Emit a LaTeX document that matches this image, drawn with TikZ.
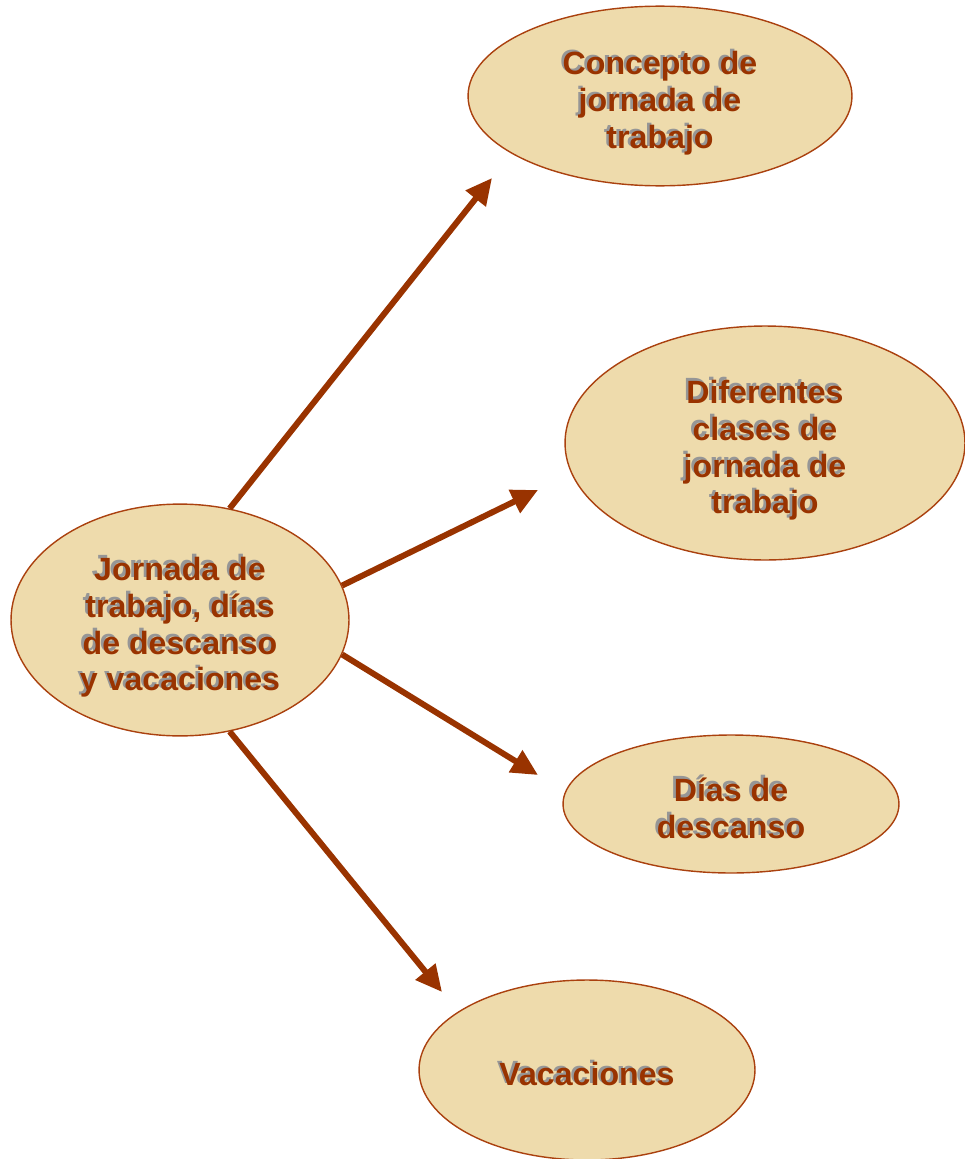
\documentclass[tikz,border=0pt]{standalone}
\usepackage{fontspec}
\setmainfont{Liberation Sans}
\usepackage{tikz}
\usetikzlibrary{shapes.geometric,arrows.meta}
\definecolor{arrowbrown}{RGB}{153,51,0}
\definecolor{textbrown}{RGB}{153,51,0}
\definecolor{shadowgray}{RGB}{150,150,150}
\definecolor{parchment}{RGB}{238,219,172}
\definecolor{rimbrown}{RGB}{170,65,15}
\newcommand{\shadowtxt}[1]{\raisebox{0pt}[\dimexpr\height+8pt\relax][\depth]{\rlap{\hspace{-1.5pt}\raisebox{1.3pt}{\color{shadowgray}\begin{tabular}{@{}c@{}}#1\end{tabular}}}\begin{tabular}{@{}c@{}}#1\end{tabular}}}
\tikzset{
  bubble/.style={ellipse, draw=rimbrown, line width=0.8pt, fill=parchment, inner sep=0pt,
    text=textbrown, font=\fontsize{18.3}{21}\selectfont\bfseries},
  link/.style={arrowbrown, line width=3.4pt, -{Triangle[length=15pt,width=14pt]}}
}
\begin{document}
\begin{tikzpicture}[x=0.02cm, y=-0.02cm]
        \useasboundingbox (0,0) rectangle (964,1159);
        \node[bubble, minimum width=7.68cm, minimum height=3.52cm] (concepto) at (660,96) {\shadowtxt{Concepto de\\jornada de\\trabajo}};
        \node[bubble, minimum width=8.0cm, minimum height=4.68cm] (clases) at (765,443) {\shadowtxt{Diferentes\\clases de\\jornada de\\trabajo}};
        \node[bubble, minimum width=6.72cm, minimum height=2.76cm] (descanso) at (731,804) {\shadowtxt{Días de\\descanso}};
        \node[bubble, minimum width=6.72cm, minimum height=3.6cm] (vacaciones) at (587,1070) {\shadowtxt{Vacaciones}};
        \node[bubble, minimum width=6.76cm, minimum height=4.6cm] (jornada) at (180,620) {\shadowtxt{Jornada de\\trabajo, días\\de descanso\\y vacaciones}};
        \coordinate (tip1) at (492,178);
        \coordinate (tip2) at (538,490);
        \coordinate (tip3) at (538,775);
        \coordinate (tip4) at (442,992);
        \draw[link] (jornada.66) -- (tip1);
        \draw[link] (jornada.12) -- (tip2);
        \draw[link] (jornada.-12) -- (tip3);
        \draw[link] (jornada.-66) -- (tip4);
      \end{tikzpicture}
\end{document}
